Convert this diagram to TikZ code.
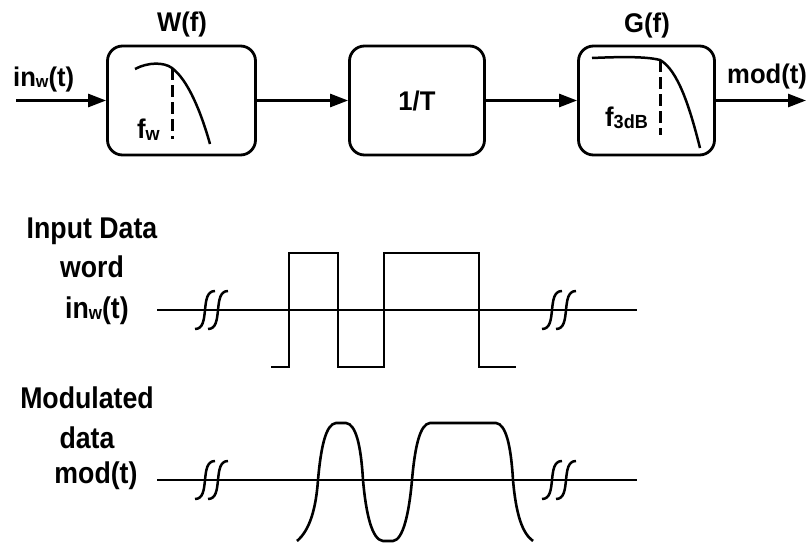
\documentclass[tikz,border=0pt]{standalone}
\usepackage{fontspec}
\setmainfont{Liberation Sans}
\newfontfamily\topsans{Liberation Sans}[FakeStretch=0.95]
\newfontfamily\narrowsans{Liberation Sans}[FakeStretch=0.89]
\usetikzlibrary{arrows.meta}
% small lowered index, e.g. the "w" of in_w
\newcommand\idx[3]{\raisebox{-#2}{\fontsize{#1}{#1}\selectfont #3}}
\begin{document}
\begin{tikzpicture}[x=1pt,y=-1pt,
  block/.style={draw, line width=2.8pt, rounded corners=15pt,
    minimum height=109pt, inner sep=0pt,
    font=\fontsize{27}{30}\topsans\bfseries},
  link/.style={line width=2.7pt, -{Triangle[length=18pt,width=13pt]}},
  toplabel/.style={inner sep=0pt, font=\fontsize{27}{30}\topsans\bfseries},
  sidelabel/.style={inner sep=0pt, anchor=base,
    font=\fontsize{30}{32}\narrowsans\bfseries},
  response/.style={line width=2.5pt},
  cutoff/.style={line width=3pt, dash pattern=on 12pt off 5pt},
  trace/.style={line width=2.6pt, line join=miter},
  axis/.style={line width=2.6pt},
  breakmark/.style={line width=2.5pt}
]
\useasboundingbox (0,0) rectangle (806,544);

% ---------- block chain ----------
\node[block, minimum width=148pt] (W) at (181.5,100.5) {};
\node[block, minimum width=135pt] (T) at (417,100.5) {1/T};
\node[block, minimum width=136pt] (G) at (646.5,100.5) {};

\node[toplabel, anchor=base] (Wl) at (182,31) {W(f)};
\node[toplabel, anchor=base] (Gl) at (647,32) {G(f)};
\node[toplabel, anchor=base west] (inl) at (13,86) {in\idx{17}{1.5pt}{w}(t)};
\node[toplabel, anchor=base west] (outl) at (727,83) {mod(t)};

\coordinate (in) at (16,100.5);
\coordinate (out) at (806,100.5);
\draw[link] (in) -- (W);
\draw[link] (W) -- (T);
\draw[link] (T) -- (G);
\draw[link] (G) -- (out);

% pre-filter response W(f)
\draw[response] (135,69) .. controls (148,62) and (164,62) .. (172,68)
  .. controls (188,80) and (201,112) .. (210,144);
\draw[cutoff] (172,68) -- (172,139);
\node[toplabel, anchor=base west] (fw) at (137,138)
  {f\idx{19}{2pt}{w}};

% shaping filter response G(f)
\draw[response] (592,58) .. controls (615,57) and (645,56) .. (660,60)
  .. controls (678,70) and (690,108) .. (700,148);
\draw[cutoff] (660,60) -- (660,135);
\node[toplabel, anchor=base west] (f3) at (605,126)
  {f\idx{19}{2pt}{3dB}};

% ---------- input data word ----------
\node[sidelabel] (l1) at (92,238) {Input Data};
\node[sidelabel] (l2) at (92,277) {word};
\node[sidelabel] (l3) at (97,318) {in\idx{19}{1.5pt}{w}(t)};

\draw[axis] (157,310) -- (637,310);
\foreach \x in {195,208,542,556}
  \draw[breakmark] (\x,329) .. controls (\x+8,329) and (\x+9,320) .. (\x+10,310)
    .. controls (\x+11,300) and (\x+12,291) .. (\x+20,291);
\draw[trace] (271,367) -- (289,367) -- (289,253) -- (338,253) -- (338,367)
  -- (384,367) -- (384,253) -- (479,253) -- (479,367) -- (516,367);

% ---------- modulated data ----------
\node[sidelabel] (m1) at (87,408) {Modulated};
\node[sidelabel] (m2) at (87,448) {data};
\node[sidelabel] (m3) at (96,483) {mod(t)};

\draw[axis] (157,480) -- (637,480);
\foreach \x in {542,556,195,208}
  \draw[breakmark] (\x,499) .. controls (\x+8,499) and (\x+9,490) .. (\x+10,480)
    .. controls (\x+11,470) and (\x+12,461) .. (\x+20,461);
\draw[trace] (297,541) .. controls (310,530) and (316,508) .. (318,480)
  .. controls (321,446) and (326,424) .. (336,423) -- (346,423)
  .. controls (356,424) and (361,446) .. (363,480)
  .. controls (366,514) and (372,540) .. (383,541) -- (393,541)
  .. controls (403,540) and (409,514) .. (412,480)
  .. controls (415,446) and (420,424) .. (430,423) -- (496,423)
  .. controls (506,424) and (511,446) .. (513,480)
  .. controls (516,514) and (522,533) .. (533,541);
\end{tikzpicture}
\end{document}
